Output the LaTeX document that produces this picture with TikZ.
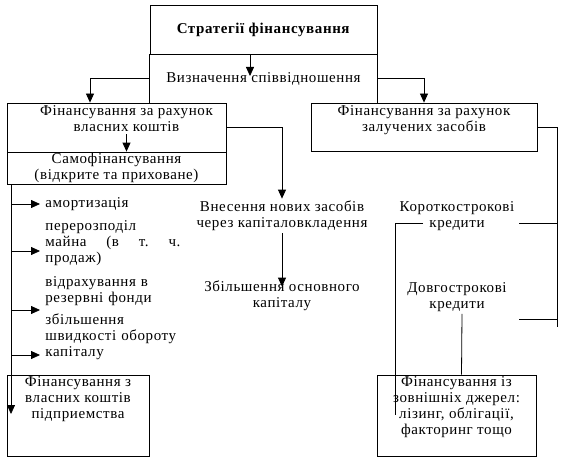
\documentclass[tikz,border=0pt]{standalone}
\usepackage{fontspec}
\setmainfont[LetterSpace=4]{Liberation Serif}
\usepackage{tikz}
\usetikzlibrary{arrows.meta,positioning}

\begin{document}
\begin{tikzpicture}[x=1pt,y=-1pt,line width=0.8pt,>={Triangle[length=9pt,width=8pt]},
  font=\fontsize{15}{16}\selectfont]
  \tikzstyle{box}=[draw,align=center,inner sep=0.5pt]
  \tikzstyle{txt}=[align=center,inner sep=2pt]
  \tikzstyle{item}=[align=left,anchor=west,inner sep=0pt,text width=150pt]
  \useasboundingbox (0,0) rectangle (569,468);
  % top block
  \node[box,minimum width=227pt,minimum height=49pt] (strat) at (263.5,29.5) {\textbf{Стратегії фінансування}};
  \node[txt,minimum width=227pt,minimum height=49pt] (ratio) at (263.5,78.5) {Визначення співвідношення};
  \draw (ratio.south west) -- (ratio.north west) (ratio.south east) -- (ratio.north east);
  % own and borrowed funds
  \node[box,minimum width=219pt,minimum height=49pt] (own) at (116.5,127.5) {};
  \node[txt,below=1pt of own.north,xshift=10pt] (owntxt) {Фінансування за рахунок\\власних коштів};
  \node[box,minimum width=219pt,minimum height=32pt] (self) at (116.5,168) {Самофінансування\\(відкрите та приховане)};
  \node[box,minimum width=226pt,minimum height=48pt] (borrow) at (424,127) {};
  \node[txt,below=1pt of borrow.north] (borrowtxt) {Фінансування за рахунок\\залучених засобів};
  % middle and right texts
  \node[txt] (new) at (282,216) {Внесення нових засобів\\через капіталовкладення};
  \node[txt] (grow) at (282,296) {Збільшення основного\\капіталу};
  \node[txt] (short) at (457,216) {Короткострокові\\кредити};
  \node[txt] (long) at (457,297) {Довгострокові\\кредити};
  % self-financing items
  \node[item] (am) at (45,204) {амортизація};
  \node[item,text width=135pt] (redist) at (45,243) {перерозподіл\\майна\hfill(в\hfill т.\hfill ч.\\продаж)};
  \node[item] (res) at (45,291.5) {відрахування в\\резервні фонди};
  \node[item] (turn) at (45,337) {збільшення\\швидкості обороту\\капіталу};
  % bottom boxes
  \node[box,minimum width=142pt,minimum height=81pt] (ownsrc) at (78,415.5) {};
  \node[txt,below=0pt of ownsrc.north] (ownsrctxt) {Фінансування з\\власних коштів\\підприемства};
  \node[box,minimum width=159pt,minimum height=81pt] (ext) at (456.5,415.5) {};
  \node[txt,below=0pt of ext.north] (exttxt) {Фінансування із\\зовнішніх джерел:\\лізинг, облігації,\\факторинг тощо};
  % connectors
  \coordinate (rtip) at (250,76);
  \draw[->] (strat.south -| rtip) -- (rtip);
  \draw[->] (ratio.west) -| ([xshift=-26.5pt]own.north);
  \draw[->] (ratio.east) -| (borrow.north);
  \draw[->] (owntxt.south) -- (self.north -| owntxt.south);
  \draw[->] (own.east) -| (new.north);
  \draw[->] (new.south) -- ([yshift=-8pt]grow.north);
  \coordinate (trunk) at (11,414);
  \coordinate (t1) at (40,204);
  \coordinate (t2) at (40,251);
  \coordinate (t3) at (40,310);
  \coordinate (t4) at (40,355);
  \draw[->] (self.south west -| trunk) -- (trunk);
  \foreach \t in {t1,t2,t3,t4}
    \draw[->] (trunk |- \t) -- (\t);
  \coordinate (rb) at (557,327);
  \coordinate (sk) at (519,223);
  \coordinate (lk) at (519,319);
  \coordinate (sl) at (423,223);
  \coordinate (el) at (395,415);
  \draw (borrow.east) -| (rb);
  \foreach \c in {sk,lk}
    \draw (\c) -- (\c -| rb);
  \draw (sl) -| (el);
  \draw ([xshift=5pt]long.south) -- ([xshift=5pt]ext.north);
\end{tikzpicture}
\end{document}
